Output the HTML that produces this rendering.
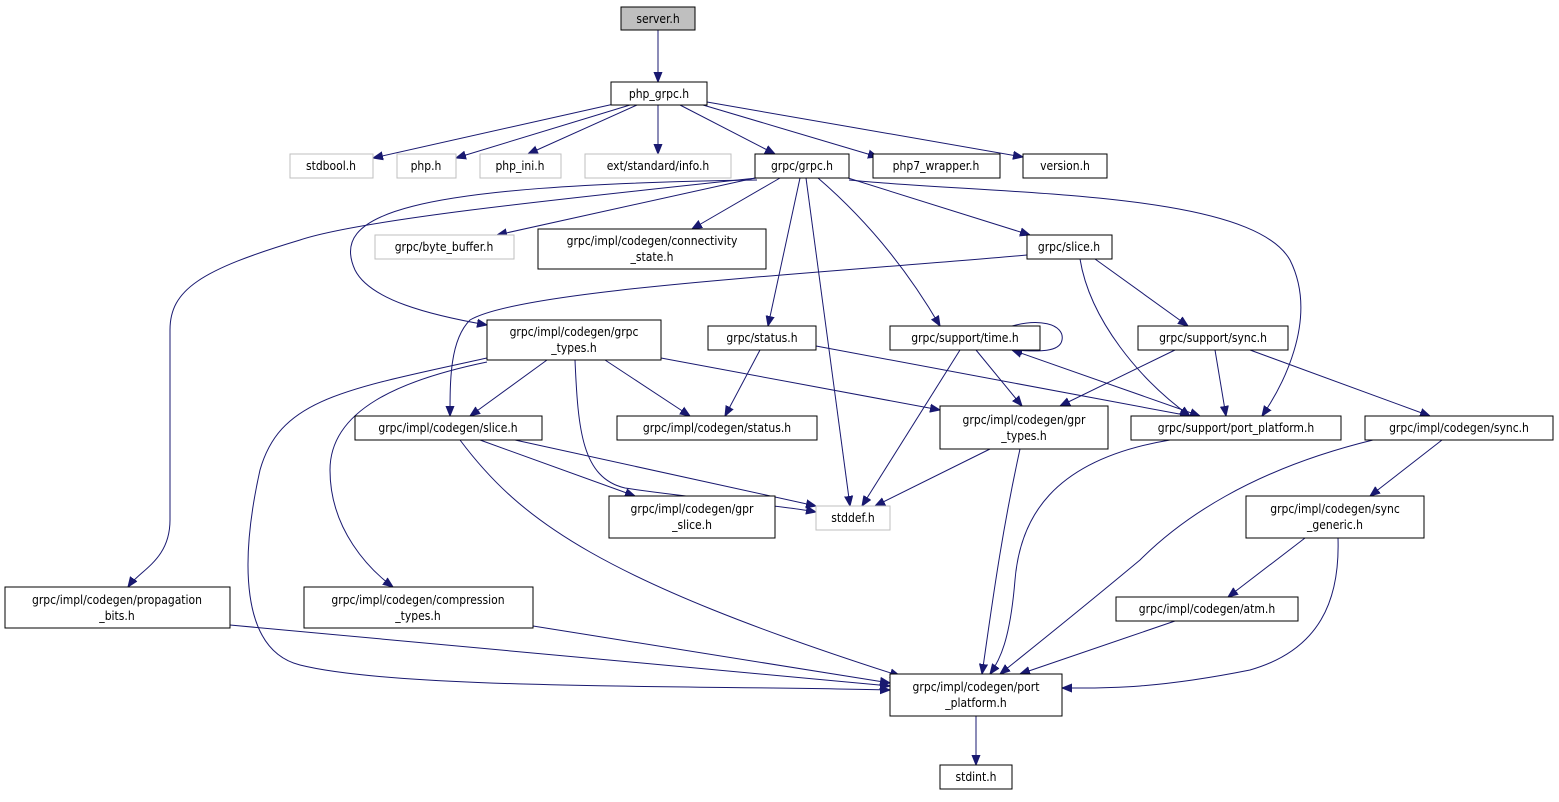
<!DOCTYPE html>
<html><head><meta charset="utf-8"><style>
html,body{margin:0;padding:0;background:#fff;}
svg text{font-family:"DejaVu Sans Condensed","DejaVu Sans","Liberation Sans",sans-serif;font-stretch:condensed;font-size:12px;fill:#000;text-anchor:middle;}
.e{fill:none;stroke:#191970;stroke-width:1;}
.n rect{fill:#fff;stroke:#000;stroke-width:1;}
.g rect{fill:#fff;stroke:#bfbfbf;stroke-width:1;}
</style></head><body>
<svg width="1559" height="797" viewBox="0 0 1559 797" xmlns="http://www.w3.org/2000/svg">
<defs><marker id="a" viewBox="0 0 10 10" refX="10" refY="5" markerWidth="10" markerHeight="10" markerUnits="userSpaceOnUse" orient="auto-start-reverse"><path d="M0,1 L10,5 L0,9 z" fill="#191970" stroke="#191970"/></marker></defs>
<g marker-end="url(#a)">
<path class="e" d="M658,30 L658,82"/>
<path class="e" d="M614,104 L373,158"/>
<path class="e" d="M630,105 L456,158"/>
<path class="e" d="M637,105 L528,154"/>
<path class="e" d="M658,105 L658,154"/>
<path class="e" d="M680,105 L775,154"/>
<path class="e" d="M703,105 L878,157"/>
<path class="e" d="M707,102 L1023,157"/>
<path class="e" d="M755,178 L497,235"/>
<path class="e" d="M780,178 L692,229"/>
<path class="e" d="M848,178 L1030,235"/>
<path class="e" d="M800,178 L768,326"/>
<path class="e" d="M806,178 L850,506"/>
<path class="e" d="M818,178 Q890,240 940,326"/>
<path class="e" d="M849,180 C1000,195 1250,190 1290,260 C1320,320 1280,390 1262,416"/>
<path class="e" d="M757,180 C400,185 330,215 355,270 C370,300 430,315 487,325"/>
<path class="e" d="M757,178 C550,200 360,220 300,240 C200,270 170,290 170,330 L170,520 C170,560 140,570 128,587"/>
<path class="e" d="M1027,255 C800,275 520,290 470,320 C450,340 450,380 450,416"/>
<path class="e" d="M1080,259 C1090,320 1140,380 1190,416"/>
<path class="e" d="M1095,259 L1188,326"/>
<path class="e" d="M547,360 L470,416"/>
<path class="e" d="M605,360 L690,416"/>
<path class="e" d="M661,358 L940,410"/>
<path class="e" d="M575,360 C578,430 582,478 625,488 C690,498 780,505 816,512"/>
<path class="e" d="M487,362 C400,380 330,410 330,470 C330,530 370,570 393,587"/>
<path class="e" d="M487,358 C340,390 280,400 260,470 C240,560 240,650 300,665 C400,690 700,685 890,690"/>
<path class="e" d="M760,350 L725,416"/>
<path class="e" d="M816,346 L1190,416"/>
<path class="e" d="M960,350 L862,506"/>
<path class="e" d="M976,350 L1022,406"/>
<path class="e" d="M1000,330 C1040,315 1065,325 1062,340 C1060,352 1040,352 1012,350"/>
<path class="e" d="M1200,416 L1012,350" marker-start="url(#a)"/>
<path class="e" d="M1175,350 L1060,406"/>
<path class="e" d="M1215,350 L1226,416"/>
<path class="e" d="M1250,350 L1430,416"/>
<path class="e" d="M480,440 L635,496"/>
<path class="e" d="M515,440 L816,506"/>
<path class="e" d="M460,440 C520,520 600,580 900,676"/>
<path class="e" d="M990,449 L875,506"/>
<path class="e" d="M1020,449 C1000,540 990,620 982,674"/>
<path class="e" d="M1170,440 C1050,460 1020,520 1015,580 C1010,640 1000,660 990,674"/>
<path class="e" d="M1373,440 C1250,470 1180,520 1140,560 C1080,610 1030,650 1000,674"/>
<path class="e" d="M1442,440 L1370,496"/>
<path class="e" d="M1305,538 L1228,597"/>
<path class="e" d="M1338,538 C1340,600 1320,650 1250,670 C1150,690 1100,688 1062,688"/>
<path class="e" d="M1175,621 L1020,674"/>
<path class="e" d="M230,625 L890,686"/>
<path class="e" d="M533,626 L890,683"/>
<path class="e" d="M976,716 L976,765"/>
</g>
<g class="n"><rect x="621" y="7" width="74" height="23" style="fill:#bfbfbf"/><text x="658" y="23">server.h</text></g>
<g class="n"><rect x="611" y="82" width="96" height="23"/><text x="659" y="98">php_grpc.h</text></g>
<g class="g"><rect x="290" y="154" width="83" height="24"/><text x="331" y="170">stdbool.h</text></g>
<g class="g"><rect x="397" y="154" width="59" height="24"/><text x="426" y="170">php.h</text></g>
<g class="g"><rect x="480" y="154" width="81" height="24"/><text x="520" y="170">php_ini.h</text></g>
<g class="g"><rect x="585" y="154" width="146" height="24"/><text x="658" y="170">ext/standard/info.h</text></g>
<g class="n"><rect x="755" y="154" width="94" height="24"/><text x="802" y="170">grpc/grpc.h</text></g>
<g class="n"><rect x="873" y="154" width="127" height="24"/><text x="936" y="170">php7_wrapper.h</text></g>
<g class="n"><rect x="1023" y="154" width="84" height="24"/><text x="1065" y="170">version.h</text></g>
<g class="g"><rect x="375" y="235" width="139" height="24"/><text x="444" y="251">grpc/byte_buffer.h</text></g>
<g class="n"><rect x="538" y="229" width="228" height="40"/><text x="652" y="245">grpc/impl/codegen/connectivity</text><text x="652" y="261">_state.h</text></g>
<g class="n"><rect x="1027" y="235" width="85" height="24"/><text x="1069" y="251">grpc/slice.h</text></g>
<g class="n"><rect x="487" y="320" width="174" height="40"/><text x="574" y="336">grpc/impl/codegen/grpc</text><text x="574" y="352">_types.h</text></g>
<g class="n"><rect x="708" y="326" width="108" height="24"/><text x="762" y="342">grpc/status.h</text></g>
<g class="n"><rect x="890" y="326" width="150" height="24"/><text x="965" y="342">grpc/support/time.h</text></g>
<g class="n"><rect x="1138" y="326" width="150" height="24"/><text x="1213" y="342">grpc/support/sync.h</text></g>
<g class="n"><rect x="355" y="416" width="187" height="24"/><text x="448" y="432">grpc/impl/codegen/slice.h</text></g>
<g class="n"><rect x="617" y="416" width="200" height="24"/><text x="717" y="432">grpc/impl/codegen/status.h</text></g>
<g class="n"><rect x="940" y="406" width="168" height="43"/><text x="1024" y="424">grpc/impl/codegen/gpr</text><text x="1024" y="440">_types.h</text></g>
<g class="n"><rect x="1131" y="416" width="210" height="24"/><text x="1236" y="432">grpc/support/port_platform.h</text></g>
<g class="n"><rect x="1365" y="416" width="188" height="24"/><text x="1459" y="432">grpc/impl/codegen/sync.h</text></g>
<g class="n"><rect x="609" y="496" width="166" height="42"/><text x="692" y="513">grpc/impl/codegen/gpr</text><text x="692" y="529">_slice.h</text></g>
<g class="g"><rect x="816" y="506" width="74" height="24"/><text x="853" y="522">stddef.h</text></g>
<g class="n"><rect x="1246" y="496" width="178" height="42"/><text x="1335" y="513">grpc/impl/codegen/sync</text><text x="1335" y="529">_generic.h</text></g>
<g class="n"><rect x="5" y="587" width="225" height="41"/><text x="117" y="604">grpc/impl/codegen/propagation</text><text x="117" y="620">_bits.h</text></g>
<g class="n"><rect x="304" y="587" width="229" height="41"/><text x="418" y="604">grpc/impl/codegen/compression</text><text x="418" y="620">_types.h</text></g>
<g class="n"><rect x="1116" y="597" width="182" height="24"/><text x="1207" y="613">grpc/impl/codegen/atm.h</text></g>
<g class="n"><rect x="890" y="674" width="172" height="42"/><text x="976" y="691">grpc/impl/codegen/port</text><text x="976" y="707">_platform.h</text></g>
<g class="n"><rect x="940" y="765" width="72" height="24"/><text x="976" y="781">stdint.h</text></g>
</svg>
</body></html>
